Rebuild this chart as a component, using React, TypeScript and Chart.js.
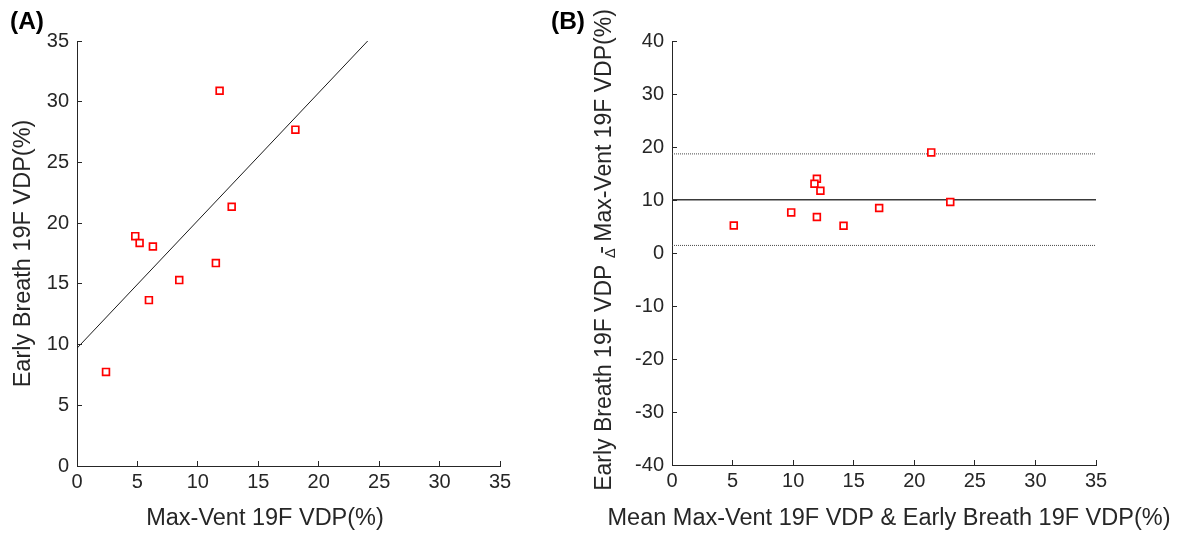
import React, { useEffect, useRef } from "react";
import { Chart, registerables } from "chart.js";

Chart.register(...registerables);

const FONT = '"Liberation Sans", Arial, Helvetica, sans-serif';
const AXIS_COLOR = "#262626";
const MARKER_COLOR = "#ff0000";

// ---------- Panel A: Max-Vent vs Early Breath ----------
const maxVentVDP = [11.8, 18.07, 12.8, 4.82, 5.18, 6.28, 11.49, 8.46, 5.95, 2.4];
const earlyBreathVDP = [30.9, 27.7, 21.35, 18.93, 18.36, 18.08, 16.71, 15.31, 13.66, 7.75];
const fitLineX = [0, 24.05];
const fitLineY = [9.7, 35];
const axisRangeA = [0, 35];
const tickStepA = 5;

// ---------- Panel B: Bland-Altman ----------
const meanVDP = [21.4, 22.97, 17.1, 11.96, 11.76, 12.25, 14.16, 11.96, 9.84, 5.1];
const diffVDP = [18.98, 9.62, 8.49, 14.0, 13.07, 11.75, 5.15, 6.79, 7.66, 5.2];
const biasValue = 10.06;
const upperLimit = 18.7;
const lowerLimit = 1.43;
const limitLineX = [0, 35];
const xRangeB = [0, 35];
const yRangeB = [-40, 40];
const yStepB = 10;

const panelLabels = ["(A)", "(B)"];
const xTitleA = "Max-Vent 19F VDP(%)";
const yTitleA = "Early Breath 19F VDP(%)";
const xTitleB = "Mean Max-Vent 19F VDP & Early Breath 19F VDP(%)";
const yTitleB1 = "Early Breath 19F VDP ";
const yTitleBDelta = "\u0394";
const yTitleB2 = "-";
const yTitleB3 = " Max-Vent 19F VDP(%)";

const inwardTicks = {
  id: "inwardTicks",
  afterDatasetsDraw(chart: any) {
    const { ctx, chartArea, scales } = chart;
    const len = 5;
    ctx.save();
    ctx.strokeStyle = AXIS_COLOR;
    ctx.lineWidth = 1;
    ctx.beginPath();
    scales.x.ticks.forEach((_t: any, i: number) => {
      const px = Math.round(scales.x.getPixelForTick(i) - 0.5) + 0.5;
      ctx.moveTo(px, chartArea.bottom);
      ctx.lineTo(px, chartArea.bottom - len);
    });
    scales.y.ticks.forEach((_t: any, i: number) => {
      const py = Math.round(scales.y.getPixelForTick(i) - 0.5) + 0.5;
      ctx.moveTo(chartArea.left, py);
      ctx.lineTo(chartArea.left + len, py);
    });
    ctx.stroke();
    ctx.restore();
  },
};

const makePanelLabel = (text: string, x: number, y: number) => ({
  id: "panelLabel",
  afterDraw(chart: any) {
    const ctx = chart.ctx;
    ctx.save();
    ctx.fillStyle = "#000";
    ctx.font = `bold 24.5px ${FONT}`;
    ctx.textAlign = "left";
    ctx.textBaseline = "alphabetic";
    ctx.fillText(text, x, y);
    ctx.restore();
  },
});

const xTitlePlugin = (text: string, cx: number, cy: number) => ({
  id: "xTitle",
  afterDraw(chart: any) {
    const ctx = chart.ctx;
    ctx.save();
    ctx.fillStyle = AXIS_COLOR;
    ctx.font = `23.5px ${FONT}`;
    ctx.textBaseline = "middle";
    ctx.textAlign = "center";
    ctx.fillText(text, cx, cy);
    ctx.restore();
  },
});

const yTitleB = {
  id: "yTitleB",
  afterDraw(chart: any) {
    const { ctx } = chart;
    ctx.save();
    ctx.fillStyle = AXIS_COLOR;
    const big = `23px ${FONT}`;
    const small = `15px ${FONT}`;
    ctx.font = big;
    const w1 = ctx.measureText(yTitleB1).width;
    const w2 = ctx.measureText(yTitleB2).width;
    const w3 = ctx.measureText(yTitleB3).width;
    ctx.font = small;
    const wd = ctx.measureText(yTitleBDelta).width;
    const total = w1 + wd + w3;
    const cy = 250;
    ctx.translate(63 + 8, cy);
    ctx.rotate(-Math.PI / 2);
    ctx.textAlign = "left";
    ctx.textBaseline = "alphabetic";
    let cx = -total / 2;
    ctx.font = big;
    ctx.fillText(yTitleB1, cx, 0);
    cx += w1;
    ctx.font = small;
    ctx.fillText(yTitleBDelta, cx, 4);
    ctx.font = big;
    ctx.fillText(yTitleB2, cx + wd - w2 + 2, -3);
    cx += wd;
    ctx.fillText(yTitleB3, cx, 0);
    ctx.restore();
  },
};

const tickFont = { family: FONT, size: 20 };

function buildA(canvas: HTMLCanvasElement) {
  return new Chart(canvas, {
    type: "scatter",
    data: {
      datasets: [
        {
          label: "subjects",
          data: maxVentVDP.map((x, i) => ({ x, y: earlyBreathVDP[i] })),
          pointStyle: "rect",
          pointRadius: 4.8,
          pointBorderWidth: 1.7,
          borderColor: MARKER_COLOR,
          backgroundColor: "#ffffff",
        },
        {
          label: "fit",
          data: fitLineX.map((x, i) => ({ x, y: fitLineY[i] })),
          showLine: true,
          pointRadius: 0,
          borderColor: "#1a1a1a",
          borderWidth: 1,
        },
      ],
    },
    options: {
      responsive: false,
      animation: false,
      events: [],
      layout: { padding: { top: 41, right: 60, bottom: 0, left: 0 } },
      plugins: { legend: { display: false }, tooltip: { enabled: false } },
      scales: {
        x: {
          type: "linear",
          min: axisRangeA[0],
          max: axisRangeA[1],
          afterFit: (s: any) => { s.height = 69; },
          grid: { display: false, drawTicks: false },
          border: { display: true, color: AXIS_COLOR, width: 1 },
          ticks: { stepSize: tickStepA, color: AXIS_COLOR, font: tickFont, padding: 4, maxRotation: 0 },
        },
        y: {
          type: "linear",
          min: axisRangeA[0],
          max: axisRangeA[1],
          afterFit: (s: any) => { s.width = 77; },
          grid: { display: false, drawTicks: false },
          border: { display: true, color: AXIS_COLOR, width: 1 },
          ticks: { stepSize: tickStepA, color: AXIS_COLOR, font: tickFont, padding: 8 },
          title: {
            display: true,
            text: yTitleA,
            color: AXIS_COLOR,
            font: { family: FONT, size: 23.5 },
            padding: { top: 9, bottom: 0 },
          },
        },
      },
    },
    plugins: [inwardTicks, xTitlePlugin(xTitleA, 265, 519), makePanelLabel(panelLabels[0], 10, 29)],
  } as any);
}

function buildB(canvas: HTMLCanvasElement) {
  const hline = (v: number) => limitLineX.map((x) => ({ x, y: v }));
  return new Chart(canvas, {
    type: "scatter",
    data: {
      datasets: [
        {
          label: "subjects",
          data: meanVDP.map((x, i) => ({ x, y: diffVDP[i] })),
          pointStyle: "rect",
          pointRadius: 4.8,
          pointBorderWidth: 1.7,
          borderColor: MARKER_COLOR,
          backgroundColor: "#ffffff",
        },
        {
          label: "bias",
          data: hline(biasValue),
          showLine: true,
          pointRadius: 0,
          borderColor: "#3a3a3a",
          borderWidth: 1.5,
        },
        {
          label: "upper",
          data: hline(upperLimit),
          showLine: true,
          pointRadius: 0,
          borderColor: "#4a4a4a",
          borderWidth: 1,
          borderDash: [1, 1],
        },
        {
          label: "lower",
          data: hline(lowerLimit),
          showLine: true,
          pointRadius: 0,
          borderColor: "#4a4a4a",
          borderWidth: 1,
          borderDash: [1, 1],
        },
      ],
    },
    options: {
      responsive: false,
      animation: false,
      events: [],
      layout: { padding: { top: 41, right: 87, bottom: 0, left: 0 } },
      plugins: { legend: { display: false }, tooltip: { enabled: false } },
      scales: {
        x: {
          type: "linear",
          min: xRangeB[0],
          max: xRangeB[1],
          afterFit: (s: any) => { s.height = 70; },
          grid: { display: false, drawTicks: false },
          border: { display: true, color: AXIS_COLOR, width: 1 },
          ticks: { stepSize: 5, color: AXIS_COLOR, font: tickFont, padding: 4, maxRotation: 0 },
        },
        y: {
          type: "linear",
          min: yRangeB[0],
          max: yRangeB[1],
          afterFit: (s: any) => { s.width = 132; },
          grid: { display: false, drawTicks: false },
          border: { display: true, color: AXIS_COLOR, width: 1 },
          ticks: { stepSize: yStepB, color: AXIS_COLOR, font: tickFont, padding: 8 },
        },
      },
    },
    plugins: [inwardTicks, xTitlePlugin(xTitleB, 889 - 540, 519), yTitleB, makePanelLabel(panelLabels[1], 11, 29)],
  } as any);
}

export default function App() {
  const refA = useRef<HTMLCanvasElement | null>(null);
  const refB = useRef<HTMLCanvasElement | null>(null);

  useEffect(() => {
    const a = refA.current ? buildA(refA.current) : null;
    const b = refB.current ? buildB(refB.current) : null;
    return () => {
      a?.destroy();
      b?.destroy();
    };
  }, []);

  return (
    <div style={{ position: "absolute", left: 0, top: 0, width: 1183, height: 535, background: "#fff", overflow: "hidden" }}>
      <canvas ref={refA} width={560} height={535} style={{ position: "absolute", left: 0, top: 0, width: 560, height: 535 }} />
      <canvas ref={refB} width={643} height={535} style={{ position: "absolute", left: 540, top: 0, width: 643, height: 535 }} />
    </div>
  );
}
